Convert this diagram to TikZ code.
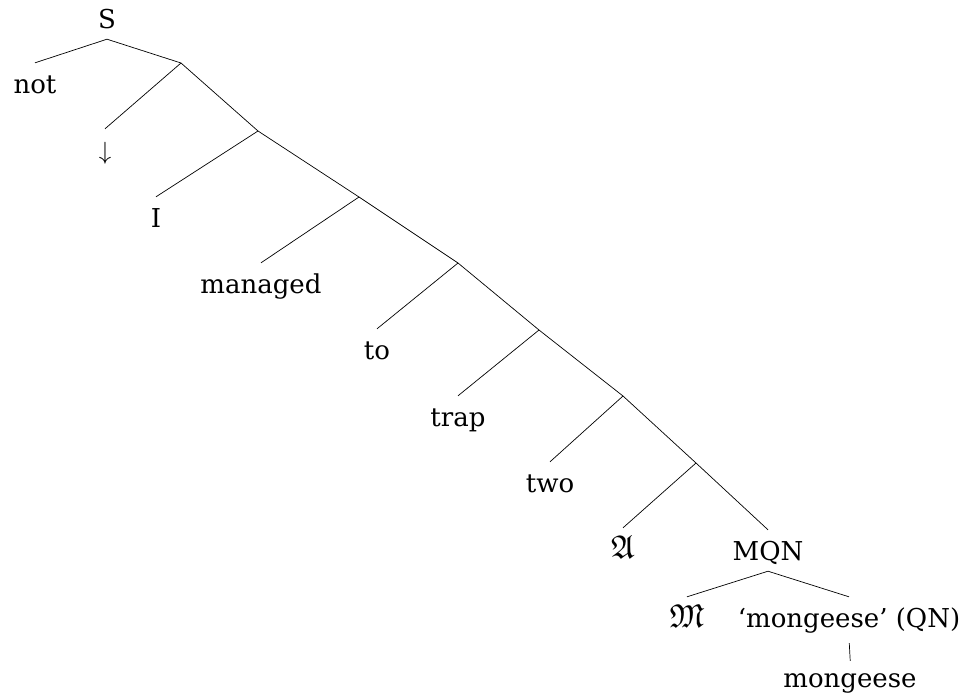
\documentclass[tikz,border=0pt]{standalone}
\usepackage{amssymb}
\usepackage{fontspec}
\setmainfont{DejaVu Serif}
\begin{document}
\begin{tikzpicture}[x=1pt,y=-1pt,
  leaf/.style={anchor=base,inner xsep=0pt,inner ysep=5pt,text height=25pt,text depth=6pt,font=\fontsize{26}{30}\selectfont},
  frak/.style={font=\fontsize{33}{36}\selectfont},
  edge/.style={line width=0.7pt}]
\useasboundingbox (0,0) rectangle (965,694);
% leaves / labels
\node[leaf] (S) at (107,28) {S};
\node[leaf] (not) at (35,93) {not};
\node[leaf] (arr) at (105,159) {$\downarrow$};
\node[leaf] (I) at (156,227) {I};
\node[leaf] (managed) at (261,293) {managed};
\node[leaf] (to) at (377,359) {to};
\node[leaf] (trap) at (458,426) {trap};
\node[leaf] (two) at (550,492) {two};
\node[leaf,frak] (A) at (623,558) {$\mathfrak{A}$};
\node[leaf] (MQN) at (768,560) {MQN};
\node[leaf,frak] (M) at (687,627) {$\mathfrak{M}$};
\node[leaf] (QN) at (849,627) {`mongeese' (QN)};
\node[leaf] (mg) at (850,687) {mongeese};
% inner nodes
\coordinate (n1) at (181,63);
\coordinate (n2) at (258,131);
\coordinate (n3) at (359,197);
\coordinate (n4) at (458,263);
\coordinate (n5) at (539,330);
\coordinate (n6) at (623,396);
\coordinate (n7) at (696,463);
% edges
\draw[edge] (not.north) -- (S.south) -- (n1);
\draw[edge] (arr.north) -- (n1) -- (n2);
\draw[edge] (I.north) -- (n2) -- (n3);
\draw[edge] (managed.north) -- (n3) -- (n4);
\draw[edge] (to.north) -- (n4) -- (n5);
\draw[edge] (trap.north) -- (n5) -- (n6);
\draw[edge] (two.north) -- (n6) -- (n7);
\draw[edge] (A.north) -- (n7) -- (MQN.north);
\draw[edge] (M.north) -- (MQN.south) -- (QN.north);
\draw[edge,shorten <=5pt,shorten >=-4pt] (QN.south) -- (mg.north);
\end{tikzpicture}
\end{document}
